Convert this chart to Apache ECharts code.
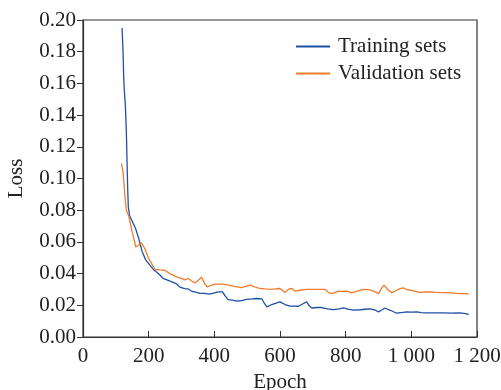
<!DOCTYPE html>
<html>
<head>
<meta charset="utf-8">
<script src="https://cdn.jsdelivr.net/npm/echarts@6/dist/echarts.min.js"></script>
<style>html,body{margin:0;padding:0;background:#fff;}#c{width:501px;height:390px;}</style>
</head>
<body>
<div id="c"></div>
<script>
const xTicks = [0, 200, 400, 600, 800, 1000, 1200];
const yTicks = [0.00, 0.02, 0.04, 0.06, 0.08, 0.10, 0.12, 0.14, 0.16, 0.18, 0.20];
const seriesNames = ['Training sets', 'Validation sets'];

const trainEpochs = [119,122,124,126,129,132,134,136,138,142,150,160,170,180,190,203,215,224,235,244,254,265,275,285,295,310,320,330,345,356,370,386,400,412,425,433,442,455,468,480,498,515,530,545,553,560,575,590,600,615,631,645,656,670,681,690,697,712,727,745,763,780,793,810,824,845,860,875,890,900,910,920,930,941,955,961,975,987,1000,1017,1030,1048,1070,1098,1120,1149,1165,1175];
const trainLoss = [0.195,0.180,0.163,0.155,0.146,0.130,0.112,0.094,0.082,0.0765,0.073,0.0685,0.062,0.054,0.049,0.0455,0.0425,0.041,0.039,0.037,0.0362,0.0352,0.0345,0.0335,0.0315,0.0305,0.0303,0.029,0.0282,0.0275,0.0275,0.027,0.0278,0.0285,0.0285,0.026,0.0236,0.0232,0.0227,0.0228,0.0238,0.024,0.0243,0.024,0.021,0.019,0.0205,0.0215,0.0222,0.0205,0.0195,0.0195,0.0194,0.021,0.0222,0.0195,0.0183,0.0186,0.0186,0.0178,0.0173,0.0178,0.0184,0.0175,0.0169,0.0172,0.0175,0.0177,0.017,0.0158,0.017,0.0183,0.0172,0.0164,0.015,0.0148,0.0155,0.0158,0.0157,0.0158,0.0154,0.0152,0.0152,0.0152,0.0151,0.0152,0.0148,0.0143];

const valEpochs = [117,122,125,128,132,140,150,161,170,178,183,190,198,210,219,235,249,265,285,300,310,320,330,341,352,361,370,378,390,402,420,437,460,483,495,508,525,539,555,570,585,600,615,625,636,645,651,661,680,692,715,737,748,758,778,790,803,819,835,854,875,890,900,910,917,928,941,955,965,976,985,997,1010,1027,1040,1058,1075,1098,1120,1149,1164,1175];
const valLoss = [0.1095,0.104,0.097,0.088,0.080,0.0758,0.066,0.0568,0.058,0.0595,0.0594,0.055,0.0505,0.046,0.0426,0.0423,0.0421,0.040,0.0379,0.037,0.036,0.0369,0.0355,0.0341,0.036,0.0379,0.034,0.0316,0.0325,0.0333,0.0333,0.0331,0.032,0.0312,0.032,0.0327,0.0315,0.0306,0.0303,0.0301,0.0303,0.0306,0.028,0.030,0.0306,0.029,0.0289,0.0295,0.030,0.0301,0.030,0.0301,0.028,0.0274,0.029,0.0288,0.029,0.0278,0.029,0.0301,0.0297,0.0285,0.0274,0.031,0.0327,0.030,0.028,0.0295,0.0305,0.031,0.030,0.0295,0.029,0.028,0.0285,0.0284,0.0282,0.028,0.0278,0.0274,0.0274,0.027];

const FONT = 'Liberation Serif';
const pair = (xs, ys) => xs.map((x, i) => [x, ys[i]]);

const chart = echarts.init(document.getElementById('c'), null, {renderer: 'canvas'});
chart.setOption({
  animation: false,
  backgroundColor: '#fff',
  grid: {left: 83, right: 24, top: 20, bottom: 53, containLabel: false, outerBoundsMode: 'none',
         show: true, borderColor: '#333', borderWidth: 1.2, backgroundColor: 'transparent'},
  legend: {
    data: seriesNames,
    orient: 'vertical',
    left: 296, top: 36,
    icon: 'rect', itemWidth: 34, itemHeight: 2, itemGap: 6,
    textStyle: {fontFamily: FONT, fontSize: 21, color: '#222', padding: [0, 0, 0, 3]},
    padding: 0
  },
  xAxis: {
    type: 'value', min: xTicks[0], max: xTicks[xTicks.length - 1], interval: 200,
    name: 'Epoch', nameLocation: 'middle', nameGap: 31,
    nameTextStyle: {fontFamily: FONT, fontSize: 21, color: '#222'},
    axisLine: {show: true, lineStyle: {color: '#333', width: 1.2}},
    axisTick: {show: true, inside: true, length: 6, lineStyle: {color: '#333'}},
    axisLabel: {fontFamily: FONT, fontSize: 21, color: '#222', margin: 9,
      formatter: v => v >= 1000 ? String(v).replace(/(\d)(\d{3})$/, '$1 $2') : String(v)},
    splitLine: {show: false}
  },
  yAxis: {
    type: 'value', min: yTicks[0], max: yTicks[yTicks.length - 1], interval: 0.02,
    name: 'Loss', nameLocation: 'middle', nameGap: 56,
    nameTextStyle: {fontFamily: FONT, fontSize: 21, color: '#222'},
    axisLine: {show: true, lineStyle: {color: '#333', width: 1.2}},
    axisTick: {show: true, inside: false, length: 6, lineStyle: {color: '#333'}},
    axisLabel: {fontFamily: FONT, fontSize: 21, color: '#222', margin: 7, formatter: v => v.toFixed(2)},
    splitLine: {show: false}
  },
  series: [
    {name: seriesNames[0], type: 'line', data: pair(trainEpochs, trainLoss), showSymbol: false, symbol: 'none',
     lineStyle: {color: '#1f4fa6', width: 1.3}, itemStyle: {color: '#1f4fa6'}},
    {name: seriesNames[1], type: 'line', data: pair(valEpochs, valLoss), showSymbol: false, symbol: 'none',
     lineStyle: {color: '#f07c2c', width: 1.3}, itemStyle: {color: '#f07c2c'}}
  ]
});
</script>
</body>
</html>
